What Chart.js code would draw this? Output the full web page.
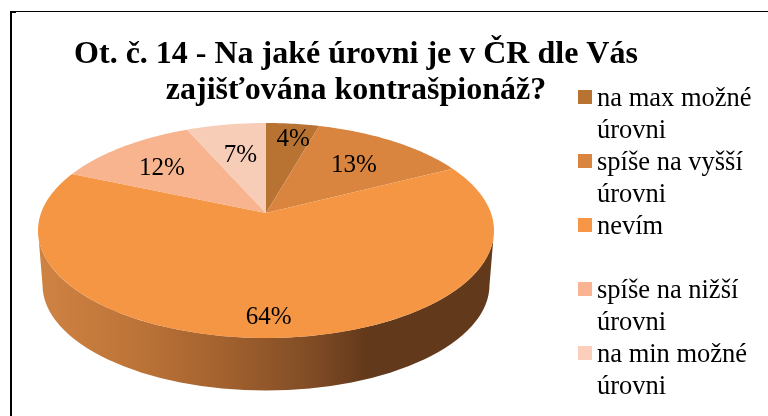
<!DOCTYPE html>
<html><head><meta charset="utf-8">
<style>html,body{margin:0;padding:0;background:#fff}canvas{display:block}</style>
<script src="https://cdn.jsdelivr.net/npm/chart.js@4"></script></head>
<body><div style="width:768px;height:416px"><canvas id="c" width="768" height="416"></canvas></div>
<script>
const categories = ['na max možné úrovni','spíše na vyšší úrovni','nevím','spíše na nižší úrovni','na min možné úrovni'];
const legendLines = [['na max možné','úrovni'],['spíše na vyšší','úrovni'],['nevím',''],['spíše na nižší','úrovni'],['na min možné','úrovni']];
const shares = [4.4,13.1,64.0,11.9,6.6];
const colors = ['#B87333','#D9843F','#F59645','#F7B48F','#F8CDB8'];
const legendColors = ['#B87333','#D9843F','#F79646','#FAB491','#FBCFBB'];
const labelRadii = [0.80,0.65,0.86,0.675,0.62];
const labelTurn = [0.033,0.02,0.02,-0.04,0.005];
const titleLines = ['Ot. č. 14 - Na jaké úrovni je v ČR dle Vás','zajišťována kontrašpionáž?'];
const SERIF = '"Liberation Serif","Times New Roman",serif';
const P = {cx:266,cy:230.5,rx:228,ry:107.5,k:0.163,depth:54.5,rxb:223.5,ryb:105.5};
const A = P.rx*Math.sqrt(1-P.k*P.k);
function proj(theta,r){
  const u=r*Math.cos(theta),v=-r*Math.sin(theta),w=1+P.k*v;
  return [P.cx+A*u/w, P.cy-P.ry*(v+P.k)/w];
}
function arcDraw(ctx){
  const a=this.startAngle,b=this.endAngle,n=Math.max(8,Math.ceil((b-a)*60));
  ctx.save();ctx.beginPath();
  const c=proj(0,0);ctx.moveTo(c[0],c[1]);
  for(let i=0;i<=n;i++){const p=proj(a+(b-a)*i/n,1);ctx.lineTo(p[0],p[1]);}
  ctx.closePath();ctx.fillStyle=this.options.backgroundColor;ctx.fill();ctx.restore();
}
const threeD={id:'threeD',
  afterLayout(chart){const t=chart.titleBlock;t.left=0;t.right=712;},
  beforeDatasetsDraw(chart){
    const ctx=chart.ctx;
    ctx.save();
    const bcy=P.cy+P.depth;
    const g=ctx.createLinearGradient(P.cx-P.rx,0,P.cx+P.rx,0);
    g.addColorStop(0,'#CF8343');g.addColorStop(0.2,'#BE7538');g.addColorStop(0.4,'#A4622F');
    g.addColorStop(0.6,'#804C25');g.addColorStop(0.72,'#63391B');g.addColorStop(1,'#63391B');
    ctx.beginPath();
    ctx.ellipse(P.cx,P.cy,P.rx,P.ry,0,Math.PI,0,true);
    ctx.lineTo(P.cx+P.rxb,bcy);
    ctx.ellipse(P.cx,bcy,P.rxb,P.ryb,0,0,Math.PI,false);
    ctx.closePath();ctx.fillStyle=g;ctx.fill();
    ctx.restore();
    chart.getDatasetMeta(0).data.forEach(el=>{el.draw=arcDraw;});
  },
  afterDraw(chart){
    const ctx=chart.ctx,meta=chart.getDatasetMeta(0);
    ctx.save();
    ctx.fillStyle='#000';
    ctx.fillRect(10,11,2,405);ctx.fillRect(10,11,758,1);ctx.fillRect(10,11,6,2);
    ctx.textBaseline='middle';ctx.textAlign='center';
    ctx.font='25px '+SERIF;
    meta.data.forEach((el,i)=>{
      const p=proj((el.startAngle+el.endAngle)/2+labelTurn[i],labelRadii[i]);
      ctx.fillText(Math.round(shares[i])+'%',p[0],p[1]);
    });
    ctx.textAlign='left';ctx.font='26.5px '+SERIF;
    let y=98;
    legendLines.forEach((ln,i)=>{
      ctx.fillStyle=legendColors[i];ctx.fillRect(578,y-8,14,14);
      ctx.fillStyle='#000';
      ctx.fillText(ln[0],597,y+1);
      if(ln[1])ctx.fillText(ln[1],597,y+33);
      y+=64;
    });
    ctx.restore();
  }
};
new Chart(document.getElementById('c'),{
  type:'pie',
  data:{labels:categories,datasets:[{data:shares,backgroundColor:colors,borderWidth:0}]},
  options:{responsive:false,animation:false,
    plugins:{legend:{display:false},tooltip:{enabled:false},
      title:{display:true,text:titleLines,color:'#000',padding:{top:37,bottom:0},
        font:{family:SERIF,size:32,weight:'bold',lineHeight:1.125}}}},
  plugins:[threeD]
});
</script></body></html>
